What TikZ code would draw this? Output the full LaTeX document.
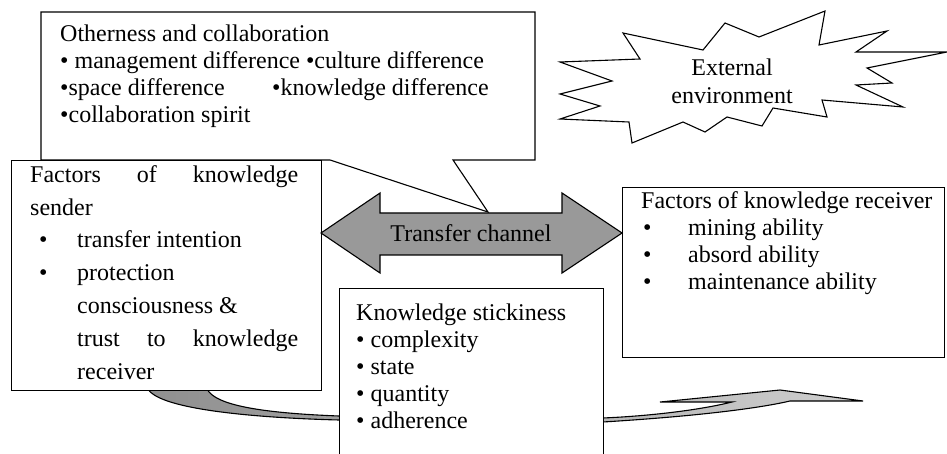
\documentclass[tikz,border=0pt]{standalone}
\usepackage{fontspec}
\setmainfont{Liberation Serif}
\definecolor{arrowgray}{HTML}{999999}
\definecolor{darkribbon}{HTML}{8F8F8F}
\definecolor{lightribbon}{HTML}{CFCFCF}
\newcommand{\firststrut}{\rule{0pt}{20pt}}
\tikzset{
  outline/.style={draw=black, line width=1.1pt, line join=miter},
  boxnode/.style={outline, fill=white, inner sep=0pt, anchor=north west},
  boxtext/.style={inner sep=0pt, anchor=north west, align=left,
                  font=\fontsize{24}{27}\selectfont},
}
\begin{document}
\begin{tikzpicture}[x=1pt, y=-1pt]
\useasboundingbox (0,0) rectangle (947,454);
\clip (0,0) rectangle (947,454);

% curved ribbon arrow (behind the boxes)
\draw[outline, left color=darkribbon, right color=lightribbon]
  (148,389) .. controls (160,410) and (260,418) .. (339,420)
  .. controls (450,422) and (520,423) .. (603,422)
  .. controls (700,416) and (760,408) .. (790,401)
  -- (863,401) -- (780,390) -- (660,402) -- (732,402)
  .. controls (700,410) and (650,416) .. (603,418)
  .. controls (520,419) and (450,418) .. (339,416)
  .. controls (260,413) and (215,405) .. (207,389) -- cycle;

% knowledge sender box
\node[boxnode, minimum width=310pt, minimum height=230pt] (sender) at (11,160) {};
\node[boxtext, font=\fontsize{24}{32.8}\selectfont] (sendertxt) at (30,162) {%
  \firststrut\makebox[268pt][s]{Factors\hfill of\hfill knowledge}\\
  sender\\
  \hspace*{9pt}\makebox[38pt][l]{•}transfer intention\\
  \hspace*{9pt}\makebox[38pt][l]{•}protection\\
  \hspace*{47pt}consciousness \&\\
  \hspace*{47pt}\makebox[221pt][s]{trust\hfill to\hfill knowledge}\\
  \hspace*{47pt}receiver};

% knowledge stickiness box
\node[boxnode, minimum width=264pt, minimum height=180pt] (sticky) at (339,288) {};
\node[boxtext] (stickytxt) at (356,300) {%
  \firststrut Knowledge stickiness\\
  • complexity\\
  • state\\
  • quantity\\
  • adherence};

% knowledge receiver box
\node[boxnode, minimum width=322pt, minimum height=170pt] (receiver) at (622,187) {};
\node[boxtext] (receivertxt) at (641,188) {%
  \firststrut Factors of knowledge receiver\\
  \hspace*{2pt}\makebox[45pt][l]{•}mining ability\\
  \hspace*{2pt}\makebox[45pt][l]{•}absord ability\\
  \hspace*{2pt}\makebox[45pt][l]{•}maintenance ability};

% transfer channel double arrow
\draw[outline, fill=arrowgray]
  (321,233) -- (380,193) -- (380,213) -- (562,213) -- (562,193) -- (622,233)
  -- (562,273) -- (562,255) -- (380,255) -- (380,273) -- cycle;
\node[inner sep=0pt, font=\fontsize{24}{27}\selectfont] (channel) at (471,233) {Transfer channel};

% otherness and collaboration callout
\coordinate (calloutTip) at (488,212);
\draw[outline, fill=white]
  (41,12) -- (535,12) -- (535,160) -- (453,160) -- (calloutTip) -- (330,160)
  -- (41,160) -- cycle;
\node[boxtext] (othertxt) at (60,21) {%
  \firststrut Otherness and collaboration\\
  • management difference •culture difference\\
  \makebox[212pt][l]{•space difference}•knowledge difference\\
  •collaboration spirit};

% external environment starburst
\draw[outline, fill=white]
  (640,59) -- (623,33) -- (703,50) -- (725,23) -- (759,37) -- (825,11)
  -- (819,45) -- (887,31) -- (856,52) -- (947,52) -- (867,68) -- (892,83)
  -- (856,85) -- (903,107) -- (822,100) -- (827,117) -- (773,108) -- (762,126)
  -- (727,117) -- (705,132) -- (683,122) -- (632,143) -- (629,122) -- (560,119)
  -- (600,106) -- (560,94) -- (612,81) -- (560,62) -- cycle;
\node[inner sep=0pt, anchor=north, align=center,
      font=\fontsize{24}{28}\selectfont] (external) at (732,55)
  {\firststrut External\\environment};
\end{tikzpicture}
\end{document}
